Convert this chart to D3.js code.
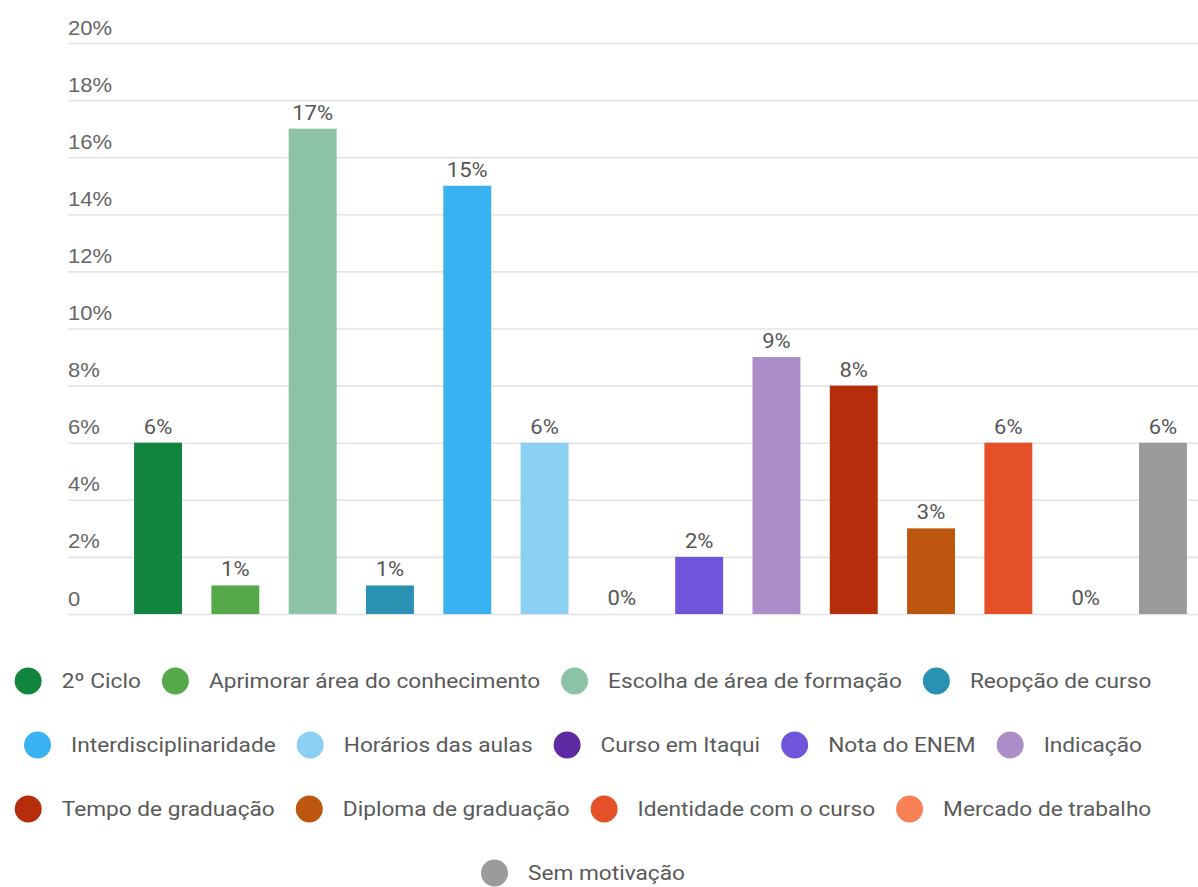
<!DOCTYPE html>
<html>
<head>
<meta charset="utf-8">
<script src="https://cdn.jsdelivr.net/npm/d3@7"></script>
<style>
  html, body { margin: 0; padding: 0; background: #fff; }
  svg { display: block; font-family: Roboto, "Noto Sans", Arial, sans-serif; }
</style>
</head>
<body>
<svg id="chart" width="1198" height="887"></svg>
<script>
// Motivations for choosing the course, share of responses (%)
const categories = [
  "2º Ciclo",
  "Aprimorar área do conhecimento",
  "Escolha de área de formação",
  "Reopção de curso",
  "Interdisciplinaridade",
  "Horários das aulas",
  "Curso em Itaqui",
  "Nota do ENEM",
  "Indicação",
  "Tempo de graduação",
  "Diploma de graduação",
  "Identidade com o curso",
  "Mercado de trabalho",
  "Sem motivação"
];
const values = [6, 1, 17, 1, 15, 6, 0, 2, 9, 8, 3, 6, 0, 6];
const colors = [
  "#118440", "#57a84a", "#8cc3a6", "#2a92b0", "#3ab1f1", "#8bd0f3", "#5e2aa1",
  "#6f55d9", "#ab8ec7", "#b52d0b", "#bd570f", "#e45028", "#f88156", "#9b9b9b"
];
const yTicks = [0, 2, 4, 6, 8, 10, 12, 14, 16, 18, 20];
const yTickLabels = ["0", "2%", "4%", "6%", "8%", "10%", "12%", "14%", "16%", "18%", "20%"];

const svg = d3.select("#chart");

// Text is drawn slightly widened horizontally
const TEXT_SX = 1.1;

// Plot area
const plotLeft = 68, plotRight = 1198;
const plotTop = 43, plotBottom = 614;

const y = d3.scaleLinear().domain([0, 20]).range([plotBottom, plotTop]);
const x = d3.scaleBand()
  .domain(categories)
  .range([119.4, 1201.6])
  .paddingInner(0.38)
  .paddingOuter(0.19);

const color = d3.scaleOrdinal().domain(categories).range(colors);

// Gridlines and tick labels
const yAxis = d3.axisLeft(y)
  .tickValues(yTicks)
  .tickSize(-(plotRight - plotLeft))
  .tickFormat((d, i) => yTickLabels[i]);

const gAxis = svg.append("g")
  .attr("transform", `translate(${plotLeft},0)`)
  .call(yAxis);
gAxis.select(".domain").remove();
gAxis.selectAll(".tick line")
  .attr("stroke", "#e4e4e4")
  .attr("stroke-width", 1.6);
gAxis.selectAll(".tick text")
  .attr("x", 0)
  .attr("y", 0)
  .attr("dy", null)
  .attr("transform", `translate(0,-9) scale(${TEXT_SX},1)`)
  .attr("text-anchor", "start")
  .attr("fill", "#666")
  .attr("font-size", 20);

// Bars
svg.append("g").selectAll("rect")
  .data(categories)
  .join("rect")
  .attr("x", d => x(d))
  .attr("width", x.bandwidth())
  .attr("y", (d, i) => y(values[i]))
  .attr("height", (d, i) => y(0) - y(values[i]))
  .attr("fill", d => color(d));

// Value labels
svg.append("g").selectAll("text")
  .data(categories)
  .join("text")
  .attr("transform", (d, i) =>
    `translate(${x(d) + x.bandwidth() / 2},${y(values[i]) - 9}) scale(${TEXT_SX},1)`)
  .attr("text-anchor", "middle")
  .attr("font-size", 20)
  .attr("fill", "#555")
  .text((d, i) => `${values[i]}%`);

// Legend, wrapped into centred rows
const legendR = 13.5;
const legendGapText = 20;
const legendGapItem = 21;
const legendMaxWidth = 1170;
const legendCenterX = 583;
const legendTopY = 681;
const legendRowStep = 64;

const gLegend = svg.append("g");
const items = categories.map(name => {
  const g = gLegend.append("g");
  g.append("circle").attr("r", legendR).attr("cx", legendR).attr("cy", 0).attr("fill", color(name));
  const t = g.append("text")
    .attr("transform", `translate(${2 * legendR + legendGapText},0) scale(1.08,1)`)
    .attr("dy", "0.35em")
    .attr("font-size", 21)
    .attr("fill", "#5a5a5a")
    .text(name);
  const w = 2 * legendR + legendGapText + t.node().getComputedTextLength() * 1.08;
  return { g, w };
});

const rows = [];
let cur = [], curW = 0;
items.forEach(it => {
  const add = cur.length ? legendGapItem + it.w : it.w;
  if (cur.length && curW + add > legendMaxWidth) {
    rows.push({ items: cur, w: curW });
    cur = [it]; curW = it.w;
  } else {
    cur.push(it); curW += add;
  }
});
if (cur.length) rows.push({ items: cur, w: curW });

rows.forEach((row, r) => {
  let xx = legendCenterX - row.w / 2;
  const yy = legendTopY + r * legendRowStep;
  row.items.forEach(it => {
    it.g.attr("transform", `translate(${xx},${yy})`);
    xx += it.w + legendGapItem;
  });
});
</script>
</body>
</html>
